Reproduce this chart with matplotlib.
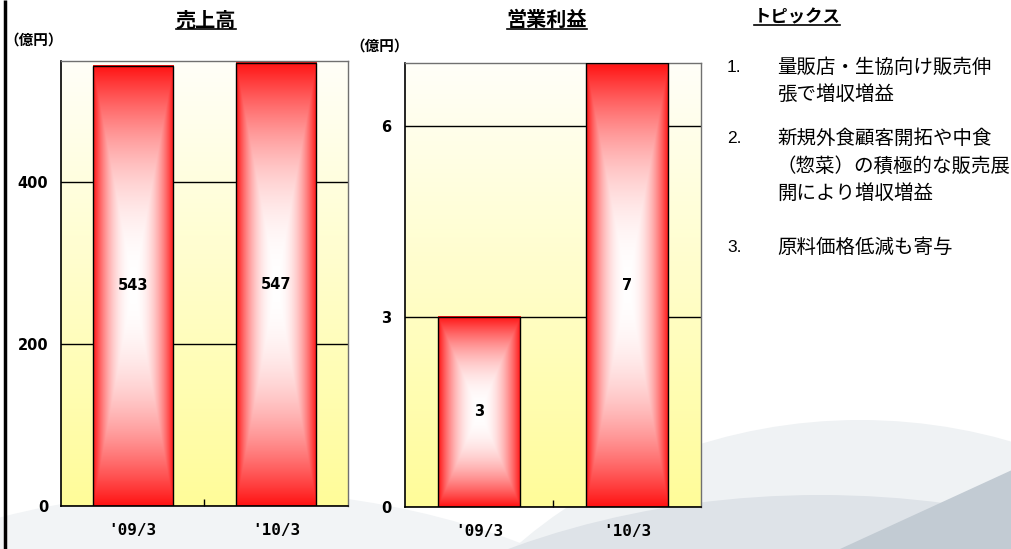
import numpy as np
import matplotlib
matplotlib.use('Agg')
import matplotlib.pyplot as plt
from matplotlib.patches import Ellipse, Polygon

# ---------------- data ----------------
categories = ["'09/3", "'10/3"]
sales = [543, 547]
profit = [3, 7]
sales_ticks = [0, 200, 400]
profit_ticks = [0, 3, 6]
sales_ymax = 549
profit_ymax = 7
sales_title = "売上高"
profit_title = "営業利益"
unit_label = "（億円）"
topics_title = "トピックス"
topic_nums = ["1.", "2.", "3."]
topic_lines = [["量販店・生協向け販売伸", "張で増収増益"],
               ["新規外食顧客開拓や中食", "（惣菜）の積極的な販売展", "開により増収増益"],
               ["原料価格低減も寄与"]]

CJK = ['Noto Sans CJK JP', 'DejaVu Sans']
W, H = 1012, 549
fig = plt.figure(figsize=(W / 100, H / 100), dpi=100)

# background decorations (slide background)
bg = fig.add_axes([0, 0, 1, 1], zorder=-10)
bg.set_xlim(0, W)
bg.set_ylim(H, 0)
bg.axis('off')
bg.add_patch(Ellipse((220, 850), 1150, 720, color='#F2F4F6', lw=0))
bg.add_patch(Ellipse((860, 880), 1000, 920, color='#EFF2F4', lw=0))
bg.add_patch(Ellipse((820, 935), 1300, 880, color='#DEE3E8', lw=0))
bg.add_patch(Polygon([(840, 549), (1012, 470), (1012, 549)], closed=True, color='#C2CBD3', lw=0))
bg.plot([5, 5], [0, H], color='black', lw=2.5, solid_capstyle='butt')


def ftext(x, y, s, **kw):
    return fig.text(x / W, 1 - y / H, s, **kw)


def draw_chart(rect, vals, ymax, ticks, tickpad):
    ax = fig.add_axes(rect)
    x = np.arange(len(categories))
    # background vertical gradient (white -> light yellow)
    g = np.linspace(0, 1, 256)[:, None, None]
    top = np.array([1.0, 1.0, 0.975])
    bot = np.array([1.0, 0.99, 0.60])
    bgimg = top * (1 - g) + bot * g
    bgimg = np.repeat(bgimg, 2, axis=1)
    ax.imshow(bgimg, extent=(0, 1, 0, 1), transform=ax.transAxes, aspect='auto',
              zorder=0, interpolation='bilinear')

    bars = ax.bar(x, vals, width=0.56, facecolor='none', edgecolor='black', lw=1, zorder=3)
    red = np.array([1.0, 0.07, 0.07])
    for b, v in zip(bars, vals):
        x0, w, h = b.get_x(), b.get_width(), b.get_height()
        nx, ny = 200, 400
        u = np.abs(np.linspace(-1, 1, nx))[None, :]
        vv = np.abs(np.linspace(-1, 1, ny))[:, None]
        t = np.maximum(u, vv)
        m = t ** 2.2
        img = (1 - m)[..., None] * np.ones(3) + m[..., None] * red
        ax.imshow(img, extent=(x0, x0 + w, 0, h), aspect='auto', zorder=2,
                  interpolation='bilinear')
        ax.text(x0 + w / 2, h / 2, str(v), ha='center', va='center',
                fontweight='bold', fontsize=10.5, zorder=4)

    ax.set_xticks(x)
    ax.set_xticklabels(categories, fontfamily='DejaVu Sans Mono', fontweight='bold', fontsize=11.5)
    ax.tick_params(axis='x', which='major', length=0, pad=12)
    ax.set_xticks([0.5], minor=True)
    ax.tick_params(axis='x', which='minor', direction='in', length=5, width=1, color='black')
    ax.set_yticks(ticks)
    ax.set_yticklabels([str(t) for t in ticks], fontweight='bold', fontsize=10.5)
    ax.tick_params(axis='y', length=0, pad=tickpad)
    ax.yaxis.grid(True, color='black', lw=1)
    ax.set_axisbelow(True)
    for s in ['top', 'right']:
        ax.spines[s].set_color('#707070')
        ax.spines[s].set_linewidth(1)
    for s in ['left', 'bottom']:
        ax.spines[s].set_color('black')
        ax.spines[s].set_linewidth(1.2)
    ax.set_xlim(-0.5, len(categories) - 0.5)
    ax.set_ylim(0, ymax)
    return ax


ax1 = draw_chart([61 / W, 43 / H, 287 / W, 445 / H], sales, sales_ymax, sales_ticks, 9)
ax2 = draw_chart([405 / W, 42 / H, 296 / W, 444 / H], profit, profit_ymax, profit_ticks, 10)

# titles and unit labels
t1 = ftext(206, 20, sales_title, ha='center', va='center', fontsize=14.5, fontweight='bold', family=CJK)
t2 = ftext(547, 19, profit_title, ha='center', va='center', fontsize=14.5, fontweight='bold', family=CJK)
t3 = ftext(797, 17, topics_title, ha='center', va='center', fontsize=12.5, fontweight='bold', family=CJK)
ftext(4, 40, unit_label, ha='left', va='center', fontsize=10.5, fontweight='bold', family=CJK)
ftext(350, 46, unit_label, ha='left', va='center', fontsize=10.5, fontweight='bold', family=CJK)

# topics
line_y = [[67, 94], [138, 166, 193], [247]]
for num, lines, ys in zip(topic_nums, topic_lines, line_y):
    ftext(727, ys[0], num, ha='left', va='center', fontsize=12.5, family=['Liberation Sans', 'DejaVu Sans'])
    for s, y in zip(lines, ys):
        ftext(777, y, s, ha='left', va='center', fontsize=14, family=CJK)

# underlines under headings
fig.canvas.draw()
r = fig.canvas.get_renderer()
for t, uy in [(t1, 29), (t2, 29), (t3, 25)]:
    bb = t.get_window_extent(r)
    bg.plot([bb.x0, bb.x1], [uy, uy], color='black', lw=1.2)

fig.savefig('out.png', dpi=100)
